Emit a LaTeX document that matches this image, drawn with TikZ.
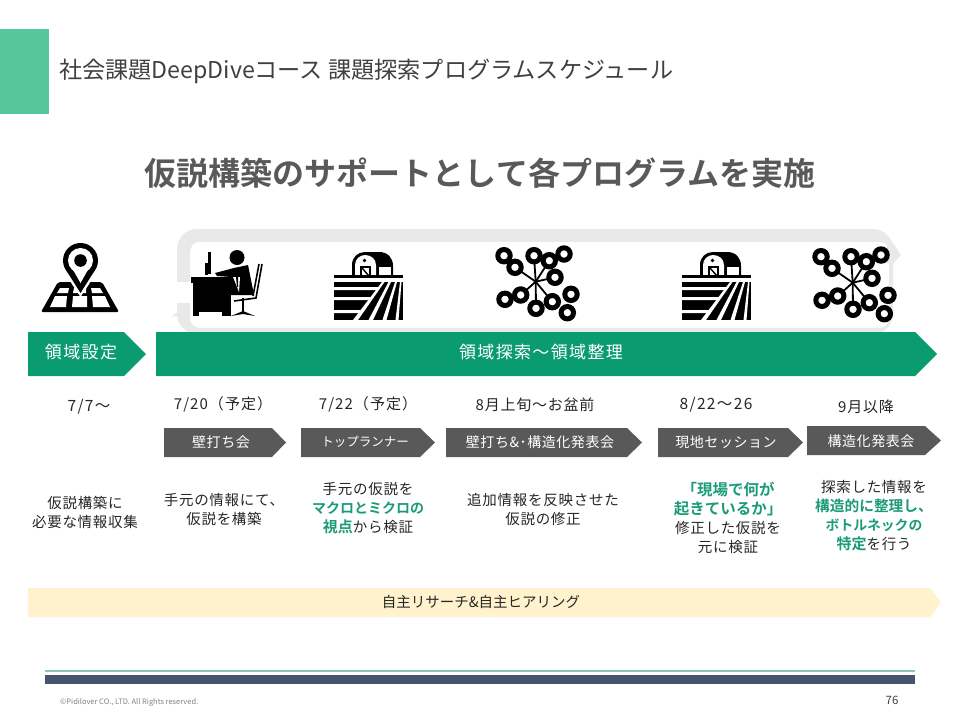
\documentclass[tikz,border=0pt]{standalone}
\usepackage{fontspec}
\setmainfont{Noto Sans CJK JP}[BoldFont={Noto Sans CJK JP Bold}]
\usetikzlibrary{calc}
\definecolor{hdrgreen}{HTML}{57C79B}
\definecolor{chevgreen}{HTML}{0A9B71}
\definecolor{chevgray}{HTML}{595959}
\definecolor{loopgray}{HTML}{E9E9E9}
\definecolor{tanbar}{HTML}{FFF2CC}
\definecolor{txt}{HTML}{262626}
\definecolor{hl}{HTML}{1B9B78}
\definecolor{titlegray}{HTML}{404040}
\definecolor{subgray}{HTML}{595959}
\definecolor{footgreen}{HTML}{8CC6AE}
\definecolor{footnavy}{HTML}{44546A}
\newcommand{\fs}[2]{\fontsize{#1}{#2}\selectfont}
\newcommand{\ls}[1]{\addfontfeature{LetterSpace=#1}}
\newcommand{\hlb}[2][14]{{\color{hl}\bfseries\fontsize{#1}{19}\selectfont\addfontfeature{LetterSpace=0}#2}}
\newcommand{\chevshape}[6]{\fill[#6] (#1,#4) -- (#3,#4) -- (#2,{(#4+#5)/2}) -- (#3,#5) -- (#1,#5) -- cycle;}
\tikzset{
  datelabel/.style={text=txt,font=\fs{15}{18}\ls{5}},
  numlabel/.style={text=txt,font=\fs{15.5}{18}\ls{9}},
  parenlabel/.style={text=txt,font=\fs{15}{18}\ls{7}},
  desclabel/.style={text=txt,align=center,font=\fs{14.5}{19}\ls{5}},
  chevlabel/.style={text=white,font=\fs{14}{16}\ls{4}},
  bigchev/.style={text=white,font=\fs{17}{20}\ls{8}},
}
\newcommand{\barnicon}[2]{%
\begin{scope}[shift={(#1,#2)}]
  \fill[black] (18,24) -- (18,13) .. controls (18,5) and (24,0) .. (31,0) -- (45,0) .. controls (54,0) and (59,6) .. (59,14) -- (59,24) -- cycle;
  \fill[white] (21,24) -- (21,13) .. controls (21,7) and (26,3) .. (31,3) .. controls (37,3) and (42,7) .. (42,13) -- (42,24) -- cycle;
  \fill[black] (30.5,8.5) circle[radius=1.8];
  \fill[black] (26,14) rectangle (37,24);
  \fill[white] (28,16) rectangle (35,24);
  \draw[black,line width=1.4pt] (28,16) -- (35,24);
  \fill[white] (45,15) rectangle (57,23);
  \fill[black] (0,23) rectangle (69,26);
  \fill[black] (0,30) rectangle (69,68);
  \foreach \a/\b in {35/38,45/48,58/61}{
    \fill[white] (0,\a) -- ({49.5-(\a-31)*0.77},\a) -- ({49.5-(\b-31)*0.77},\b) -- (0,\b) -- cycle;}
  \fill[white] (48,30) -- (50.5,30) -- (24,68) -- (19,68) -- cycle;
  \fill[white] (54.5,30) -- (57,30) -- (39,68) -- (34.5,68) -- cycle;
  \fill[white] (61,30) -- (63,30) -- (52.5,68) -- (48.5,68) -- cycle;
  \fill[white] (66,30) -- (67.5,30) -- (64.5,68) -- (61.5,68) -- cycle;
\end{scope}}
\newcommand{\neticon}[2]{%
\begin{scope}[shift={(#1,#2)}]
  \foreach \px/\py in {25/27.3,44/15.7,59.3/20.7,65/37.3,30.7/55,46/68.3,62.3/61.7}{
    \draw[black,line width=1.8pt] (45.7,41.7) -- (\px,\py);}
  \foreach \px/\py in {14/15.7,25/27.3,44/15.7,59.3/20.7,74/14,65/37.3,15/59.3,30.7/55,46/68.3,62.3/61.7,81/54.3,77.3/72.7}{
    \fill[white] (\px,\py) circle[radius=6];
    \draw[black,line width=5pt] (\px,\py) circle[radius=6.2];}
\end{scope}}
\begin{document}
\begin{tikzpicture}[x=1pt,y=-1pt]
\useasboundingbox (0,0) rectangle (960,720);
% header
\fill[hdrgreen] (0,29) rectangle (49,114);
\node[anchor=west,inner sep=0,text=titlegray,font=\fs{23.15}{26}] (title) at (59,71) {社会課題DeepDiveコース 課題探索プログラムスケジュール};
\node[inner sep=0,text=subgray,font=\fs{32}{36}\bfseries] (subtitle) at (480,173) {仮説構築のサポートとして各プログラムを実施};
% loop arrow band
\fill[loopgray,rounded corners=20pt] (177,229) rectangle (893,334);
\fill[white,rounded corners=10pt] (190,242) rectangle (889,328);
\fill[white] (170,282) rectangle (190,303);
\fill[loopgray] (172,316) -- (190,303) -- (190,316) -- cycle;
\fill[loopgray] (889,243) -- (893,243) -- (901,255) -- (893,264) -- (880,262) -- cycle;
% map icon
\fill[black,rounded corners=2pt] (58,282) -- (102,282) -- (119,312) -- (41,312) -- cycle;
\fill[white] (60,288) -- (69,288) -- (68,293) -- (57,293) -- cycle;
\fill[white] (74,288) -- (86,288) -- (86,293) -- (73,293) -- cycle;
\fill[white] (91,288) -- (100,288) -- (103,293) -- (92,293) -- cycle;
\fill[white] (55,296) -- (67,296) -- (66,307) -- (50,307) -- cycle;
\fill[white] (73,296) -- (87,296) -- (87,307) -- (72,307) -- cycle;
\fill[white] (92,296) -- (105,296) -- (110,307) -- (93,307) -- cycle;
% pin icon
\fill[white] (80.5,297) -- (64,272) -- (64,256) -- (97,256) -- (97,272) -- cycle;
\fill[black] (80.5,293) -- (66,270) -- (95,270) -- cycle;
\fill[black] (80.5,260.5) circle[radius=17.5];
\fill[white] (80.5,260.5) circle[radius=12.5];
\fill[white] (80.5,283) -- (72,268) -- (89,268) -- cycle;
\fill[black] (80.5,260.5) circle[radius=6.3];
% person at desk
\fill[black] (191,277) rectangle (231,283);
\fill[black] (193,283) rectangle (231,312);
\fill[black] (193,312) rectangle (199,316);
\fill[black] (222,312) rectangle (231,316);
\fill[black] (208,252) rectangle (211,274);
\fill[black] (205,263) rectangle (208,275);
\fill[black] (237,257.5) circle[radius=7.5];
\fill[black] (215,273) -- (234,268) -- (248,265) -- (254,295) -- (231,295) -- (231,277) -- (217,276) -- cycle;
\fill[white] (233,277) -- (240,277) -- (239,292) -- cycle;
\fill[black] (236,277) -- (238,277) -- (238,287) -- (237,287) -- cycle;
\draw[black,line width=1.6pt] (262,264) -- (256,298) -- (234,301);
\draw[black,line width=1.6pt] (259,264) -- (253,296);
\draw[black,line width=1.7pt] (243,298) -- (243,312);
\fill[black] (231,316) -- (243,311) -- (255,316) -- (243,314) -- cycle;
% field icons and network icons
\barnicon{334}{252}
\barnicon{682}{252}
\neticon{490}{240}
\neticon{807}{241}
% green chevrons
\chevshape{28}{146}{124}{332}{376}{chevgreen}
\node[bigchev,inner sep=0] (s1) at (81,352) {領域設定};
\chevshape{156}{937}{915}{332}{376}{chevgreen}
\node[bigchev,inner sep=0] (s2) at (541,352) {領域探索〜領域整理};
% dates
\node[numlabel,inner sep=0] (d1) at (89,407) {7/7〜};
\node[parenlabel,inner sep=0] (d2) at (223,404) {7/20（予定）};
\node[parenlabel,inner sep=0] (d3) at (368,404) {7/22（予定）};
\node[datelabel,inner sep=0] (d4) at (535,405) {8月上旬〜お盆前};
\node[numlabel,inner sep=0] (d5) at (716,405) {8/22〜26};
\node[datelabel,inner sep=0] (d6) at (866,407) {9月以降};
% gray chevrons
\chevshape{164}{286}{272}{428}{457}{chevgray}
\node[chevlabel,inner sep=0] (c1) at (221,442) {壁打ち会};
\chevshape{301}{435}{420}{428}{457}{chevgray}
\node[chevlabel,inner sep=0,font=\fs{12.5}{15}] (c2) at (365,442) {トップランナー};
\chevshape{446}{642}{627}{428}{457}{chevgray}
\node[chevlabel,inner sep=0] (c3) at (540,442) {壁打ち\&･構造化発表会};
\chevshape{658}{803}{788}{428}{457}{chevgray}
\node[chevlabel,inner sep=0] (c4) at (726,442) {現地セッション};
\chevshape{807}{941}{925}{426}{455}{chevgray}
\node[chevlabel,inner sep=0] (c5) at (871,441) {構造化発表会};
% descriptions
\node[desclabel,inner sep=0] (t1) at (85,512) {仮説構築に\\必要な情報収集};
\node[desclabel,inner sep=0] (t2) at (224,510) {手元の情報にて、\\仮説を構築};
\node[desclabel,inner sep=0] (t3) at (368,508) {手元の仮説を\\\hlb{マクロとミクロの}\\\hlb[15]{視点}から検証};
\node[desclabel,inner sep=0] (t4) at (543,510) {追加情報を反映させた\\仮説の修正};
\node[desclabel,inner sep=0] (t5) at (728,518) {\hlb[15.5]{「現場で何が}\\\hlb[15.5]{起きているか」}\\修正した仮説を\\元に検証};
\node[desclabel,inner sep=0] (t6) at (874,516) {探索した情報を\\\hlb[14.7]{構造的に整理し、}\\\hlb[13.8]{ボトルネックの}\\\hlb[15]{特定}を行う};
% self research bar
\chevshape{28}{941}{930}{588}{617}{tanbar}
\node[inner sep=0,text=txt,font=\fs{14.5}{16}] (r) at (481,602) {自主リサーチ\&自主ヒアリング};
% footer
\fill[footgreen] (45,670) rectangle (915,672);
\fill[footnavy] (45,675) rectangle (915,684);
\node[anchor=west,inner sep=0,text=gray,font=\fs{7.5}{9}] (copy) at (60,702) {©Pidilover CO., LTD. All Rights reserved.};
\node[inner sep=0,text=titlegray,font=\fs{11.5}{13}] (page) at (892,700) {76};
\end{tikzpicture}
\end{document}
